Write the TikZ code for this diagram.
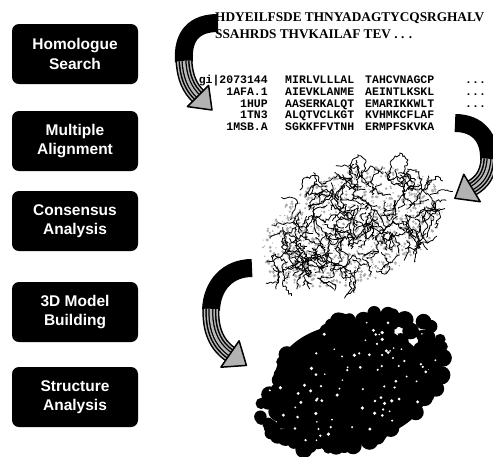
\documentclass[tikz,border=0pt]{standalone}
\usepackage{fontspec}
\setmainfont{Liberation Serif}
\newfontfamily\labelfont{Liberation Sans}
\newfontfamily\seqfont{Liberation Mono}
\usetikzlibrary{decorations.pathmorphing}

\begin{document}
\begin{tikzpicture}[x=1pt,y=-1pt,
  stagebox/.style={fill=black, rounded corners=7pt, minimum width=126pt,
    minimum height=60pt, text=white, align=center, inner sep=0pt,
    font=\labelfont\bfseries\fontsize{15.5}{19.5}\selectfont},
  seqline/.style={font=\bfseries\fontsize{13.3}{15}\selectfont, anchor=base west, inner sep=0pt},
  alnname/.style={font=\seqfont\bfseries\fontsize{11.5}{13}\selectfont, anchor=base east, inner sep=0pt},
  alnseq/.style={font=\seqfont\bfseries\fontsize{11.5}{13}\selectfont, anchor=base west, inner sep=0pt},
  ribbon/.style={black, line width=0.8pt, decorate,
    decoration={random steps, segment length=2pt, amplitude=1.4pt}},
  bandtip/.style={fill=gray!60, draw=black, line width=1.5pt, line join=round},
]
\useasboundingbox (0,0) rectangle (493,456);

% ---------- pipeline stages ----------
\node[stagebox] (hs) at (75,54)  {Homologue\\Search};
\node[stagebox] (ma) at (75,141) {Multiple\\Alignment};
\node[stagebox] (ca) at (75,221) {Consensus\\Analysis};
\node[stagebox] (mb) at (75,312) {3D Model\\Building};
\node[stagebox] (sa) at (75,397) {Structure\\Analysis};

% ---------- query sequence ----------
\node[seqline] (q1) at (215,21) {HDYEILFSDE THNYADAGTYCQSRGHALV};
\node[seqline] (q2) at (215,38) {SSAHRDS THVKAILAF TEV . . .};

% ---------- alignment ----------
\node[alnname] (n1) at (268,83)  {gi|2073144};
\node[alnname] (n2) at (268,95)  {1AFA.1};
\node[alnname] (n3) at (268,107) {1HUP};
\node[alnname] (n4) at (268,118) {1TN3};
\node[alnname] (n5) at (268,130) {1MSB.A};
\node[alnseq] (s1) at (285,83)  {MIRLVLLLAL};
\node[alnseq] (s2) at (285,95)  {AIEVKLANME};
\node[alnseq] (s3) at (285,107) {AASERKALQT};
\node[alnseq] (s4) at (285,118) {ALQTVCLKGT};
\node[alnseq] (s5) at (285,130) {SGKKFFVTNH};
\node[alnseq] (t1) at (365,83)  {TAHCVNAGCP};
\node[alnseq] (t2) at (365,95)  {AEINTLKSKL};
\node[alnseq] (t3) at (365,107) {EMARIKKWLT};
\node[alnseq] (t4) at (365,118) {KVHMKCFLAF};
\node[alnseq] (t5) at (365,130) {ERMPFSKVKA};
\node[alnseq] (d1) at (465,83)  {...};
\node[alnseq] (d2) at (465,95)  {...};
\node[alnseq] (d3) at (465,107) {...};

% ---------- ribbon model ----------
\pgfmathsetseed{3}
\foreach \k in {1,...,900}{
  \pgfmathsetmacro\ang{360*rnd}
  \pgfmathsetmacro\rr{sqrt(rnd)}
  \pgfmathsetmacro\pu{95*\rr*cos(\ang)}
  \pgfmathsetmacro\pv{55*\rr*sin(\ang)}
  \pgfmathsetmacro\px{352+\pu*cos(20)+\pv*sin(20)}
  \pgfmathsetmacro\py{228-\pu*sin(20)+\pv*cos(20)}
  \pgfmathsetmacro\rad{0.6+1.1*rnd}
  \fill[gray!65] (\px,\py) circle (\rad);
}
\foreach \k in {1,...,210}{
  \pgfmathsetmacro\ang{360*rnd}
  \pgfmathsetmacro\rr{sqrt(rnd)}
  \pgfmathsetmacro\pu{90*\rr*cos(\ang)}
  \pgfmathsetmacro\pv{52*\rr*sin(\ang)}
  \pgfmathsetmacro\px{352+\pu*cos(20)+\pv*sin(20)}
  \pgfmathsetmacro\py{228-\pu*sin(20)+\pv*cos(20)}
  \pgfmathsetmacro\da{360*rnd}
  \pgfmathsetmacro\db{\da+100*rand}
  \pgfmathsetmacro\la{5+12*rnd}
  \pgfmathsetmacro\lb{5+12*rnd}
  \draw[ribbon] (\px,\py) -- ++(\da:\la) -- ++(\db:\lb);
}
% loops standing out at the top
\draw[ribbon] (352,185) -- (350,165) -- (358,155) -- (366,162) -- (362,178);
\draw[ribbon] (388,180) -- (392,160) -- (400,153) -- (408,160) -- (404,172) -- (412,182);
\draw[ribbon] (300,190) -- (304,178) -- (318,176) -- (322,186);
\draw[ribbon] (408,190) -- (420,185) -- (432,200) -- (440,215) -- (435,228);

% ---------- space-filling model ----------
\fill[black] (352,382) ellipse [x radius=78, y radius=58];
\pgfmathsetseed{11}
\foreach \k in {1,...,420}{
  \pgfmathsetmacro\ang{360*rnd}
  \pgfmathsetmacro\rr{sqrt(rnd)}
  \pgfmathsetmacro\px{352+88*\rr*cos(\ang)-32*\rr*sin(\ang)}
  \pgfmathsetmacro\py{382+70*\rr*sin(\ang)}
  \pgfmathsetmacro\rad{5+4*rnd}
  \fill[black] (\px,\py) circle (\rad);
}
\foreach \k in {1,...,85}{
  \pgfmathsetmacro\ang{360*rnd}
  \pgfmathsetmacro\rr{0.9*sqrt(rnd)}
  \pgfmathsetmacro\px{352+88*\rr*cos(\ang)-32*\rr*sin(\ang)}
  \pgfmathsetmacro\py{382+70*\rr*sin(\ang)}
  \pgfmathsetmacro\rad{0.8+1*rnd}
  \fill[white] (\px,\py) circle (\rad);
}

% ---------- curved ribbon arrows ----------
% search -> alignment
\draw[black, line width=18pt] (218,23) .. controls (195,23) and (182,35) .. (184,62);
\foreach \w/\c in {17/black,14/gray!55,11/black,8/gray!60,5/black,2.5/gray!55}
  \draw[\c, line width=\w pt] (184,61) .. controls (185,78) and (190,88) .. (198,96);
\filldraw[bandtip] (208.6,85.4) -- (212,110) -- (187.4,106.6) -- cycle;

% alignment -> ribbon model
\draw[black, line width=18pt] (455,123) .. controls (478,123) and (490,138) .. (489,160);
\foreach \w/\c in {17/black,14/gray!55,11/black,8/gray!60,5/black,2.5/gray!55}
  \draw[\c, line width=\w pt] (489,159) .. controls (488,174) and (482,182) .. (472,188);
\filldraw[bandtip] (480.2,201.7) -- (454.9,198.3) -- (463.8,174.3) -- cycle;

% ribbon model -> space-filling model
\draw[black, line width=18pt] (252,268) .. controls (228,268) and (212,285) .. (211,310);
\foreach \w/\c in {17/black,14/gray!55,11/black,8/gray!60,5/black,2.5/gray!55}
  \draw[\c, line width=\w pt] (211,309) .. controls (210,330) and (217,345) .. (230,354);
\filldraw[bandtip] (220.9,367.2) -- (246.4,365.4) -- (239.1,340.8) -- cycle;
\end{tikzpicture}
\end{document}
